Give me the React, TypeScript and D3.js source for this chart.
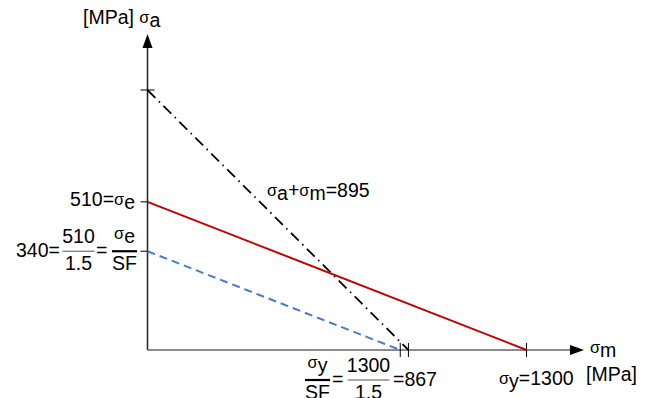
import React from "react";
import * as d3 from "d3";

// stresses in MPa
const sigmaE = 510;
const sigmaY = 1300;
const safetyFactor = 1.5;
const xTicks = [867, 895, 1300];
const yTicks = [895, 510, 340];
// each line: [sigma_a intercept, sigma_m intercept]
const lineNames = ["yield", "goodman", "safe"];
const aIntercepts = [895, 510, 340];
const mIntercepts = [895, 1300, 867];
const lineColors = ["#000000", "#c00000", "#4a78cc"];
const lineDash = ["11,5,1.5,5", null, "8,5"];

const W = 645;
const H = 398;
const FS = 19.5;
const font = "'Liberation Sans', Arial, sans-serif";

const x = d3.scaleLinear().domain([0, sigmaY]).range([147.5, 526.5]);
const y = d3.scaleLinear().domain([0, 895]).range([350, 90]);

// small raised sigma followed by a lowered full size letter; ends 3px low
const Sig = ({ sub }: { sub: string }) => (
  <>
    <tspan fontSize={FS * 0.84} dy={-1}>σ</tspan>
    <tspan fontSize={FS} dy={4}>{sub}</tspan>
  </>
);

const Frac = ({ cx, half, top, bottom, lineY, bold, topShift = 0 }: any) => (
  <g>
    <text x={cx} y={lineY - 8 + topShift} textAnchor="middle">{top}</text>
    <line
      x1={cx - half}
      x2={cx + half}
      y1={lineY}
      y2={lineY}
      stroke={bold ? "#000" : "#555"}
      strokeWidth={bold ? 2.2 : 1}
    />
    <text x={cx} y={lineY + 19} textAnchor="middle">{bottom}</text>
  </g>
);

export default function App() {
  const x0 = x(0);
  const y0 = y(0);
  return (
    <svg
      width={W}
      height={H}
      style={{ position: "absolute", left: 0, top: 0, background: "#fff" }}
      fontFamily={font}
      fontSize={FS}
    >
      {/* axes */}
      <line x1={x0} x2={x0} y1={y0} y2={45} stroke="#222" strokeWidth={1.5} />
      <path d={`M${x0},34 L${x0 - 5},48 L${x0 + 5},48 Z`} fill="#000" />
      <line x1={x0} x2={572} y1={y0} y2={y0} stroke="#666" strokeWidth={1.5} />
      <path d={`M584,${y0} L570,${y0 - 5} L570,${y0 + 5} Z`} fill="#000" />

      {/* ticks */}
      {yTicks.map((t, i) => (
        <line
          key={"yt" + t}
          x1={x0 - 7}
          x2={i === 0 ? x0 + 7 : x0}
          y1={y(t)}
          y2={y(t)}
          stroke="#000"
          strokeWidth={1}
        />
      ))}
      {xTicks.map(t => (
        <line
          key={"xt" + t}
          x1={x(t)}
          x2={x(t)}
          y1={y0 - 7}
          y2={y0 + 7}
          stroke="#000"
          strokeWidth={1}
        />
      ))}

      {/* lines */}
      {lineNames.map((n, i) => (
        <line
          key={n}
          x1={x(0)}
          y1={y(aIntercepts[i])}
          x2={x(mIntercepts[i])}
          y2={y(0)}
          stroke={lineColors[i]}
          strokeWidth={i === 0 ? 1.8 : 2}
          strokeDasharray={lineDash[i] || undefined}
        />
      ))}

      {/* labels */}
      <text x={83} y={24}>
        [MPa] <Sig sub="a" />
      </text>
      <text x={590} y={354}>
        <Sig sub="m" />
      </text>
      <text x={135} y={y(sigmaE) + 4} textAnchor="end">
        {sigmaE}=<Sig sub="e" />
      </text>

      <text x={16} y={y(340) + 6}>340=</text>
      <Frac cx={78.5} half={16} lineY={y(340)} top={String(sigmaE)} bottom={String(safetyFactor)} />
      <text x={96} y={y(340) + 6}>=</text>
      <Frac cx={124.5} half={12.5} lineY={y(340)} top={<Sig sub="e" />} topShift={-3} bottom="SF" bold />

      <text x={267} y={197}>
        <Sig sub="a" />
        <tspan dy={-3}>+</tspan>
        <Sig sub="m" />
        <tspan dy={-3}>=895</tspan>
      </text>

      <Frac cx={317.5} half={12.5} lineY={380} top={<Sig sub="y" />} topShift={-3} bottom="SF" bold />
      <text x={332} y={386}>=</text>
      <Frac cx={368.5} half={21} lineY={380} top={String(sigmaY)} bottom={String(safetyFactor)} />
      <text x={393} y={386}>=867</text>

      <text x={499} y={385}>
        <Sig sub="y" />
        <tspan dy={-3}>={sigmaY}</tspan>
      </text>
      <text x={586} y={381}>[MPa]</text>
    </svg>
  );
}
